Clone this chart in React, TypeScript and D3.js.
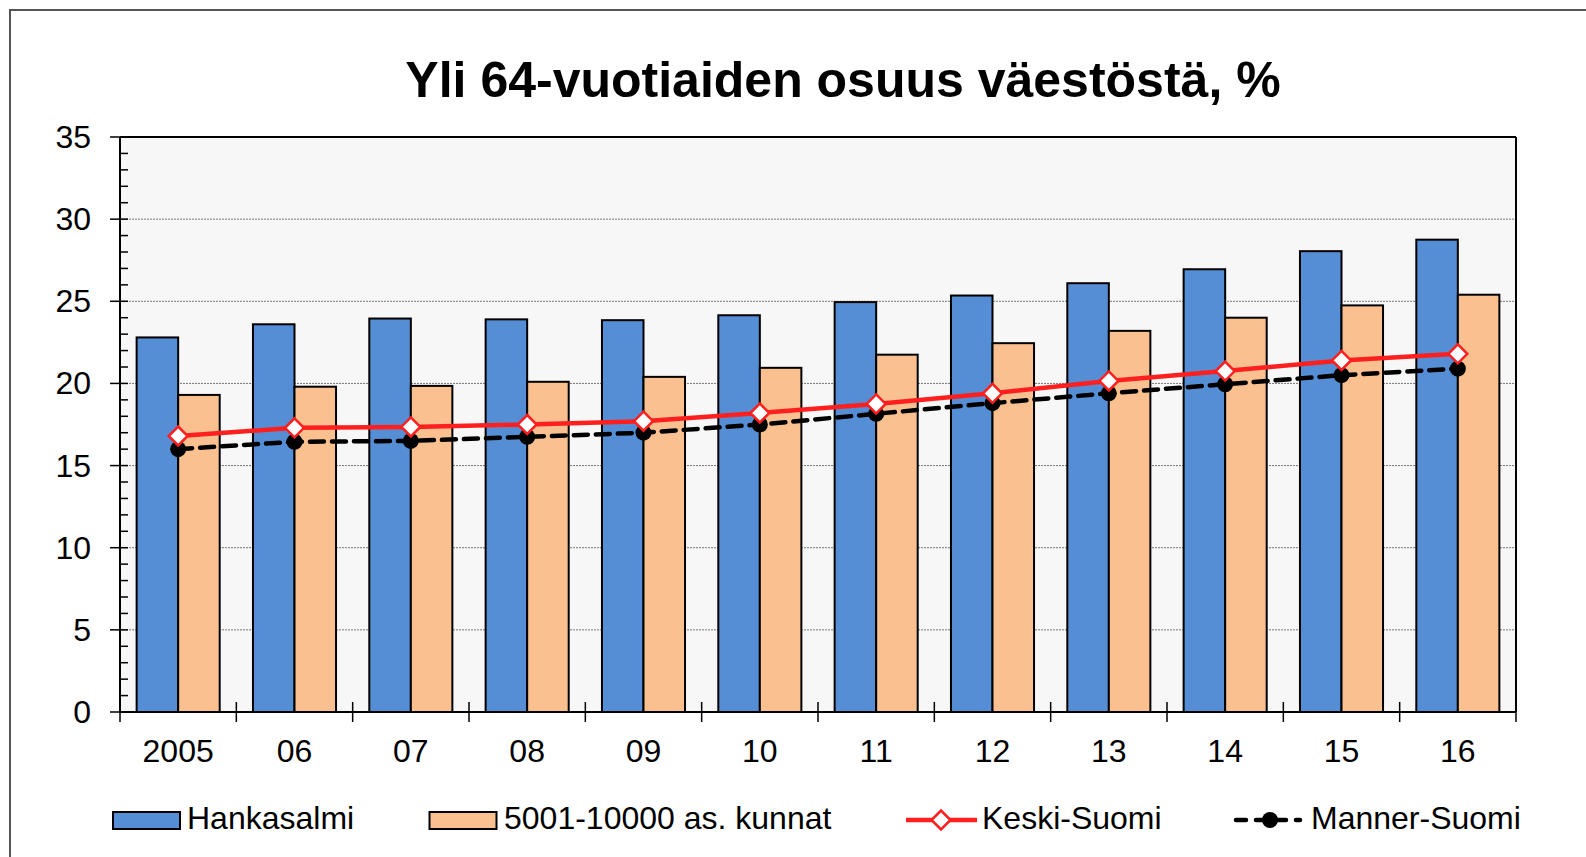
import React from "react";
import * as d3 from "d3";

const years = ["2005", "06", "07", "08", "09", "10", "11", "12", "13", "14", "15", "16"];
const hankasalmi = [22.8, 23.6, 23.95, 23.9, 23.85, 24.15, 24.95, 25.35, 26.1, 26.95, 28.05, 28.75];
const kunnat = [19.3, 19.8, 19.85, 20.1, 20.4, 20.95, 21.75, 22.45, 23.2, 24.0, 24.75, 25.4];
const keskiSuomi = [16.8, 17.3, 17.35, 17.5, 17.7, 18.2, 18.75, 19.4, 20.15, 20.75, 21.4, 21.8];
const mannerSuomi = [16.0, 16.45, 16.5, 16.75, 17.0, 17.5, 18.15, 18.8, 19.4, 19.95, 20.5, 20.9];
const yTicks = [0, 5, 10, 15, 20, 25, 30, 35];
const title = "Yli 64-vuotiaiden osuus väestöstä, %";
const legendLabels = ["Hankasalmi", "5001-10000 as. kunnat", "Keski-Suomi", "Manner-Suomi"];

const BLUE = "#558ed5";
const ORANGE = "#fac090";
const RED = "#ff1f1f";
const FONT = "'Liberation Sans', Arial, sans-serif";

export default function App() {
  const W = 1586, H = 857;
  const left = 120, right = 1516, top = 137, bottom = 712;

  const x = d3.scaleBand<string>().domain(years).range([left, right]).paddingInner(0).paddingOuter(0);
  const bw = x.bandwidth();
  const gapFrac = 0.143;
  const barW = bw * (1 - 2 * gapFrac) / 2;
  const y = d3.scaleLinear().domain([0, 35]).range([bottom, top]);
  const minor = d3.range(0, 36, 1);

  const cx = (i: number) => (x(years[i]) as number) + bw / 2;
  const lineGen = d3.line<number>().x((_, i) => cx(i)).y((v) => y(v));

  const diamond = (px: number, py: number, r: number) =>
    `M${px},${py - r}L${px + r},${py}L${px},${py + r}L${px - r},${py}Z`;

  return (
    <svg width={W} height={H} style={{ position: "absolute", left: 0, top: 0, fontFamily: FONT }}>
      <rect x={0} y={0} width={W} height={H} fill="#fff" />
      <rect x={10} y={10} width={W + 20} height={H + 20} fill="none" stroke="#555" strokeWidth={2} />
      <text x={843} y={97} textAnchor="middle" fontSize={50} fontWeight="bold" fill="#000">{title}</text>

      {/* plot background */}
      <rect x={left} y={top} width={right - left} height={bottom - top} fill="#f7f7f7" />
      {/* gridlines */}
      {yTicks.filter((t) => t > 0 && t < 35).map((t) => (
        <line key={"g" + t} x1={left} x2={right} y1={y(t)} y2={y(t)} stroke="#777" strokeWidth={1} strokeDasharray="2,1" />
      ))}

      {/* bars */}
      {years.map((yr, i) => {
        const x0 = (x(yr) as number) + bw * gapFrac;
        return (
          <g key={"b" + yr}>
            <rect x={x0} y={y(hankasalmi[i])} width={barW} height={y(0) - y(hankasalmi[i])} fill={BLUE} stroke="#000" strokeWidth={2} />
            <rect x={x0 + barW} y={y(kunnat[i])} width={barW} height={y(0) - y(kunnat[i])} fill={ORANGE} stroke="#000" strokeWidth={2} />
          </g>
        );
      })}

      {/* plot border top/right */}
      <line x1={left} x2={right} y1={top} y2={top} stroke="#000" strokeWidth={2} />
      <line x1={right} x2={right} y1={top} y2={bottom} stroke="#000" strokeWidth={2} />

      {/* lines */}
      <path d={lineGen(keskiSuomi) || ""} fill="none" stroke={RED} strokeWidth={4.5} />
      <path d={lineGen(mannerSuomi) || ""} fill="none" stroke="#000" strokeWidth={4.5} strokeDasharray="14,8" strokeLinecap="round" />
      {mannerSuomi.map((v, i) => (
        <circle key={"m" + i} cx={cx(i)} cy={y(v)} r={8} fill="#000" />
      ))}
      {keskiSuomi.map((v, i) => (
        <path key={"k" + i} d={diamond(cx(i), y(v), 9.5)} fill="#fff" stroke={RED} strokeWidth={2.5} />
      ))}

      {/* y axis */}
      <line x1={left} x2={left} y1={top} y2={bottom} stroke="#000" strokeWidth={2} />
      {minor.map((t) => (
        <line key={"mi" + t} x1={left} x2={left + 8} y1={y(t)} y2={y(t)} stroke="#000" strokeWidth={1.5} />
      ))}
      {yTicks.map((t) => (
        <g key={"yt" + t}>
          <line x1={left - 10} x2={left} y1={y(t)} y2={y(t)} stroke="#000" strokeWidth={1.5} />
          <text x={91} y={y(t) + 11} textAnchor="end" fontSize={32} fill="#000">{t}</text>
        </g>
      ))}

      {/* x axis */}
      <line x1={left} x2={right} y1={bottom} y2={bottom} stroke="#000" strokeWidth={2} />
      {d3.range(0, years.length + 1).map((i) => {
        const xx = left + i * bw;
        return <line key={"xt" + i} x1={xx} x2={xx} y1={i === 0 || i === years.length ? bottom : bottom - 10} y2={bottom + 10} stroke="#000" strokeWidth={1.5} />;
      })}
      {years.map((yr, i) => (
        <text key={"xl" + yr} x={cx(i)} y={762} textAnchor="middle" fontSize={32} fill="#000">{yr}</text>
      ))}

      {/* legend */}
      <rect x={113} y={812} width={67} height={17} fill={BLUE} stroke="#000" strokeWidth={2} />
      <text x={187} y={829} fontSize={32} fill="#000">{legendLabels[0]}</text>
      <rect x={429.5} y={812} width={67} height={17} fill={ORANGE} stroke="#000" strokeWidth={2} />
      <text x={504} y={829} fontSize={32} fill="#000">{legendLabels[1]}</text>
      <line x1={906} x2={977} y1={820} y2={820} stroke={RED} strokeWidth={4.5} />
      <path d={diamond(941, 820, 9.5)} fill="#fff" stroke={RED} strokeWidth={2.5} />
      <text x={982} y={829} fontSize={32} fill="#000">{legendLabels[2]}</text>
      <line x1={1236} x2={1300} y1={820} y2={820} stroke="#000" strokeWidth={4.5} strokeDasharray="10,10" strokeLinecap="round" />
      <circle cx={1270} cy={820} r={8} fill="#000" />
      <text x={1311} y={829} fontSize={32} fill="#000">{legendLabels[3]}</text>
    </svg>
  );
}
